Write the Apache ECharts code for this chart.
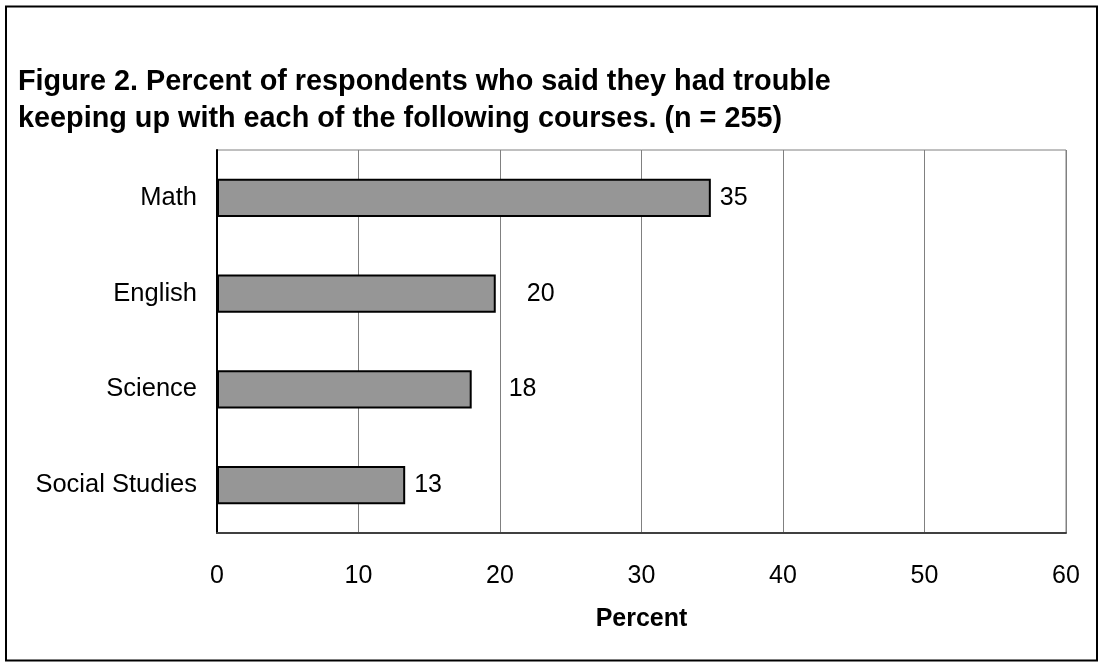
<!DOCTYPE html>
<html>
<head>
<meta charset="utf-8">
<script src="https://cdn.jsdelivr.net/npm/echarts@6/dist/echarts.min.js"></script>
<style>
html,body{margin:0;padding:0;background:#fff;}
#chart{width:1102px;height:666px;}
</style>
</head>
<body>
<div id="chart"></div>
<script>
const titleText = "Figure 2. Percent of respondents who said they had trouble\nkeeping up with each of the following courses. (n = 255)";
const categories = ["Math", "English", "Science", "Social Studies"];
const values = [34.9, 19.7, 18.0, 13.3];
const valueLabels = ["35", "20", "18", "13"];
const xTicks = [0, 10, 20, 30, 40, 50, 60];
const axisName = "Percent";

const labelGaps = [9, 31, 37, 9];
const FONT = "'Liberation Sans', Arial, sans-serif";

const chart = echarts.init(document.getElementById('chart'), null, {renderer: 'canvas'});
chart.setOption({
  animation: false,
  backgroundColor: '#ffffff',
  title: {
    text: titleText,
    left: 13, top: 59,
    textStyle: {fontFamily: FONT, fontSize: 28.8, fontWeight: 'bold', color: '#000', lineHeight: 37}
  },
  graphic: [{
    type: 'rect', silent: true,
    shape: {x: 6, y: 6.5, width: 1091, height: 654},
    style: {fill: 'none', stroke: '#000', lineWidth: 2}
  }],
  grid: {left: 217, right: 36, top: 150, bottom: 133, show: true, borderColor: '#808080', borderWidth: 1, backgroundColor: 'transparent'},
  xAxis: {
    type: 'value', min: xTicks[0], max: xTicks[xTicks.length - 1], interval: xTicks[1] - xTicks[0],
    name: axisName, nameLocation: 'middle', nameGap: 74,
    nameTextStyle: {fontFamily: FONT, fontSize: 25, fontWeight: 'bold', color: '#000'},
    axisLine: {show: true, lineStyle: {color: '#404040', width: 2}},
    axisTick: {show: false},
    axisLabel: {fontFamily: FONT, fontSize: 25, color: '#000', margin: 31},
    splitLine: {show: true, lineStyle: {color: '#808080', width: 1}}
  },
  yAxis: {
    type: 'category', data: categories, inverse: true,
    axisLine: {show: true, lineStyle: {color: '#000', width: 2}},
    axisTick: {show: false},
    axisLabel: {fontFamily: FONT, fontSize: 25.5, color: '#000', margin: 20},
    splitLine: {show: false}
  },
  series: [{
    type: 'bar',
    barWidth: '40%',
    data: values.map((v, i) => ({
      value: v,
      label: {show: true, position: 'right', distance: labelGaps[i], formatter: valueLabels[i]}
    })),
    itemStyle: {color: '#969696', borderColor: '#000', borderWidth: 2},
    label: {fontFamily: FONT, fontSize: 25, color: '#000'}
  }]
});
</script>
</body>
</html>
